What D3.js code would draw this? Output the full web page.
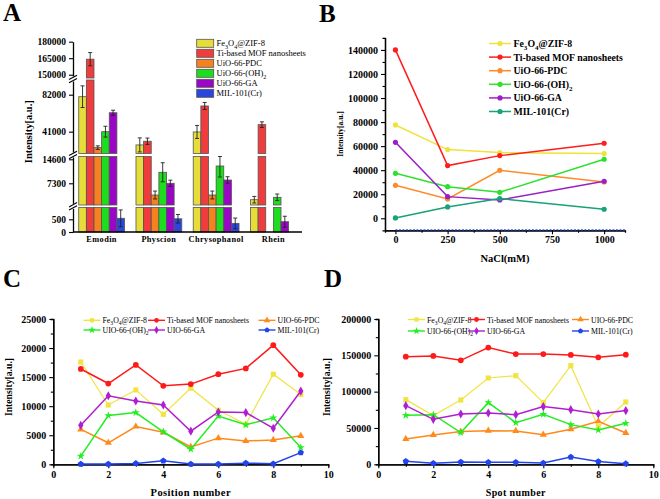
<!DOCTYPE html>
<html><head><meta charset="utf-8">
<script src="https://cdn.jsdelivr.net/npm/d3@7"></script>
<style>body{margin:0;background:#fff} text{font-family:"Liberation Serif","Times New Roman",serif}</style>
</head><body><svg id="c" width="660" height="499"></svg>
<script>
// ---------- data ----------
const namesAB = ["Fe_3O_4@ZIF-8","Ti-based MOF nanosheets","UiO-66-PDC","UiO-66-(OH)_2","UiO-66-GA","MIL-101(Cr)"];
const namesCD = ["Fe_3O_4@ZIF-8","Ti-based MOF nanosheets","UIO-66-PDC","UIO-66-(OH)_2","UIO-66-GA","MIL-101(Cr)"];

// Panel A
const categoriesA = ["Emodin","Physcion","Chrysophanol","Rhein"];
const A_fe  = [79800, 26300, 40700, 2310];
const A_ti  = [164100, 30400, 69500, 48800];
const A_pdc = [23300, 3740, 3740, 0];
const A_oh  = [41000, 10650, 12560, 3040];
const A_ga  = [62000, 7300, 8300, 405];
const A_mil = [540, 520, 340, 0];
const A_fe_err  = [12000, 7800, 7200, 1000];
const A_ti_err  = [6000, 3500, 3900, 3100];
const A_pdc_err = [2000, 1200, 1200, 0];
const A_oh_err  = [6000, 2900, 3350, 1000];
const A_ga_err  = [2800, 950, 1000, 215];
const A_mil_err = [330, 170, 210, 0];
const A_ticks = [[0,500],[7300,14600],[41000,82000],[150000,165000,180000]];

// Panel B
const nacl = [0,250,500,1000];
const B_fe  = [77600, 57100, 54600, 53800];
const B_ti  = [140000, 43800, 52100, 62400];
const B_pdc = [27400, 16100, 39900, 30200];
const B_oh  = [37400, 26300, 21600, 49100];
const B_ga  = [63200, 18000, 15200, 30800];
const B_mil = [300, 9400, 16400, 7500];

// Panel C
const positions = [1,2,3,4,5,6,7,8,9];
const C_fe  = [17600,10200,12800,8600,13100,9300,6900,15500,12000];
const C_ti  = [16400,13900,17100,13500,13800,15500,16500,20500,15400];
const C_pdc = [6000,3700,6500,5500,3000,4500,4000,4200,4900];
const C_oh  = [1400,8400,8900,5600,2600,8300,6800,8000,2900];
const C_ga  = [6700,11800,10900,10200,5700,9000,8900,6200,12600];
const C_mil = [50,50,150,600,50,50,200,100,2000];

// Panel D
const spots = [1,2,3,4,5,6,7,8,9];
const D_fe  = [89000,67000,88500,118800,122000,84900,135800,51800,85800];
const D_ti  = [148200,149100,143100,160600,151800,151800,150500,147200,150900];
const D_pdc = [34900,40400,45000,46300,45900,40800,48200,59200,43100];
const D_oh  = [67400,68300,43600,84900,57300,68800,54600,47200,56400];
const D_ga  = [80700,61900,69300,70600,68300,79400,75200,69300,73900];
const D_mil = [4100,1400,3200,2800,2800,1800,10100,3700,900];

// ---------- styles ----------
const colA = ["#e6dc3a","#f03c3c","#f5821f","#1edc1e","#9a06c6","#2a46dc"];
const colB = ["#f0e23c","#ff1c1c","#ff8a2a","#2ee02e","#9b1fc8","#17a279"];
const colCD = ["#f0e440","#ff1a1a","#ff8a1a","#22ee22","#b01ed2","#2244ee"];
const FONT = '"Liberation Serif","Times New Roman",serif';
const fmt = d3.format("d");

const svg = d3.select("#c");

function rich(sel, s, fs) {
  const parts = s.split(/(_.)/).filter(p => p);
  let sub = false;
  parts.forEach(p => {
    if (p[0] === "_") {
      sel.append("tspan").attr("dy", fs*0.28).attr("font-size", fs*0.72).text(p[1]);
      sub = true;
    } else {
      const t = sel.append("tspan").text(p);
      if (sub) { t.attr("dy", -fs*0.28); sub = false; }
    }
  });
}
function styleAxis(g, fs) {
  g.selectAll("path.domain").attr("stroke","#000").attr("stroke-width",1.3);
  g.selectAll(".tick line").attr("stroke","#000").attr("stroke-width",1.1);
  g.selectAll(".tick text").attr("font-family",FONT).attr("font-weight","bold").attr("font-size",fs).attr("fill","#000");
}
function title(x, y, t) {
  svg.append("text").attr("x",x).attr("y",y).attr("font-size",25).attr("font-weight","bold").attr("font-family",FONT).text(t);
}

// ================= Panel A =================
(function(){
  const g = svg.append("g");
  const segs = [
    {d:[0,965], r:[232,207.5]},
    {d:[700,15450], r:[205,156.5]},
    {d:[16800,98300], r:[153.5,80]},
    {d:[147000,180000], r:[78,41.7]}
  ];
  segs.forEach(s => s.sc = d3.scaleLinear().domain(s.d).range(s.r));
  const x0 = d3.scaleBand().domain(categoriesA).range([73,302]).paddingInner(0.2).paddingOuter(0.1);
  const x1 = d3.scaleBand().domain(d3.range(6)).range([0,x0.bandwidth()]);
  const vals = [A_fe,A_ti,A_pdc,A_oh,A_ga,A_mil];
  const errs = [A_fe_err,A_ti_err,A_pdc_err,A_oh_err,A_ga_err,A_mil_err];

  categoriesA.forEach((c,ci) => {
    vals.forEach((arr,si) => {
      const v = arr[ci];
      if (v <= 0) return;
      const bx = x0(c) + x1(si);
      segs.forEach((s,k) => {
        const lo = k === 0 ? 0 : s.d[0];
        if (v <= lo) return;
        const top = Math.min(v, s.d[1]);
        const y1 = s.sc(top), y2 = s.sc(lo);
        g.append("rect").attr("x",bx).attr("y",y1).attr("width",x1.bandwidth()).attr("height",y2-y1)
          .attr("fill",colA[si]).attr("stroke","#555").attr("stroke-width",0.8);
      });
      const e = errs[si][ci];
      if (e > 0) {
        const s = segs.find((s,k) => v >= (k===0?0:s.d[0]) && v <= s.d[1]);
        const cx = bx + x1.bandwidth()/2;
        const ya = s.sc(Math.min(v+e, s.d[1])), yb = s.sc(Math.max(v-e, s.d[0]));
        g.append("line").attr("x1",cx).attr("x2",cx).attr("y1",ya).attr("y2",yb).attr("stroke","#222").attr("stroke-width",0.9);
        [ya,yb].forEach(yy => g.append("line").attr("x1",cx-2).attr("x2",cx+2).attr("y1",yy).attr("y2",yy).attr("stroke","#222").attr("stroke-width",0.9));
      }
    });
  });
  segs.forEach((s,k) => {
    const ax = g.append("g").attr("transform","translate(73,0)")
      .call(d3.axisLeft(s.sc).tickValues(A_ticks[k]).tickSize(4).tickSizeOuter(0).tickPadding(3).tickFormat(fmt));
    styleAxis(ax, 9.5);
  });
  [79, 155, 206.3].forEach(gy => {
    g.append("rect").attr("x",68).attr("y",gy-2.5).attr("width",10).attr("height",5).attr("fill","#fff");
    [-1.6,1.6].forEach(o => g.append("line").attr("x1",69).attr("x2",77).attr("y1",gy+o+2.2).attr("y2",gy+o-2.2).attr("stroke","#000").attr("stroke-width",1.1));
  });
  const xa = g.append("g").attr("transform","translate(0,232)")
    .call(d3.axisBottom(x0).tickSize(0).tickPadding(4));
  styleAxis(xa, 8.3);
  xa.select("path.domain").attr("d","M73,0H302");
  xa.selectAll(".tick text").attr("letter-spacing",0.4);
  namesAB.forEach((n,i) => {
    const y = 43.3 + i*10;
    g.append("rect").attr("x",196.7).attr("y",y-4).attr("width",17).attr("height",8).attr("fill",colA[i]).attr("stroke","#555").attr("stroke-width",0.8);
    const t = g.append("text").attr("x",216.5).attr("y",y+3).attr("font-size",8.5).attr("font-family",FONT);
    rich(t, n, 8.5);
  });
  g.append("text").attr("transform","translate(32,131.7) rotate(-90)").attr("text-anchor","middle")
    .attr("font-size",10.5).attr("font-weight","bold").attr("font-family",FONT).text("Intensity[a.u.]");
  title(3, 21, "A");
})();

// ================= Panel B =================
(function(){
  const g = svg.append("g");
  const x = d3.scaleLinear().domain([-50,1100]).range([385,625]);
  const y = d3.scaleLinear().domain([-10000,150000]).range([230.3,37.9]);
  const series = [B_fe,B_ti,B_pdc,B_oh,B_ga,B_mil];
  const ym = g.append("g").attr("transform","translate(385,0)").call(d3.axisLeft(y).tickValues(d3.range(10000,150000,20000)).tickSize(2.5).tickFormat(""));
  styleAxis(ym, 10);
  const xm = g.append("g").attr("transform","translate(0,230.3)").call(d3.axisBottom(x).tickValues([125,375,625,875]).tickSize(2.5).tickFormat(""));
  styleAxis(xm, 10);
  const ya = g.append("g").attr("transform","translate(385,0)").call(d3.axisLeft(y).tickValues(d3.range(0,140001,20000)).tickSize(4).tickSizeOuter(0).tickPadding(3).tickFormat(fmt));
  styleAxis(ya, 10);
  const xa = g.append("g").attr("transform","translate(0,230.3)").call(d3.axisBottom(x).tickValues([0,250,500,750,1000]).tickSize(4).tickSizeOuter(0).tickPadding(2).tickFormat(fmt));
  styleAxis(xa, 10);
  g.append("line").attr("x1",x(0)).attr("x2",625).attr("y1",229.8).attr("y2",229.8).attr("stroke","#3355ee").attr("stroke-width",1.2).attr("stroke-dasharray","2,1.5");
  const line = d3.line().x((d,i)=>x(nacl[i])).y(d=>y(d));
  series.forEach((s,i) => {
    g.append("path").attr("d",line(s)).attr("fill","none").attr("stroke",colB[i]).attr("stroke-width",1.5);
    s.forEach((v,j) => g.append("circle").attr("cx",x(nacl[j])).attr("cy",y(v)).attr("r",2.6).attr("fill",colB[i]));
  });
  namesAB.forEach((n,i) => {
    const yy = 43.5 + i*13.6;
    g.append("line").attr("x1",489).attr("x2",511).attr("y1",yy).attr("y2",yy).attr("stroke",colB[i]).attr("stroke-width",1.5);
    g.append("circle").attr("cx",500).attr("cy",yy).attr("r",2.6).attr("fill",colB[i]);
    const t = g.append("text").attr("x",513.5).attr("y",yy+3.5).attr("font-size",9.8).attr("font-weight","bold").attr("font-family",FONT);
    rich(t, n, 9.8);
  });
  g.append("text").attr("transform","translate(343,134) rotate(-90)").attr("text-anchor","middle")
    .attr("font-size",7.6).attr("font-weight","bold").attr("font-family",FONT).text("Intensity[a.u.]");
  g.append("text").attr("x",505).attr("y",262).attr("text-anchor","middle")
    .attr("font-size",10.5).attr("font-weight","bold").attr("font-family",FONT).text("NaCl(mM)");
  title(319, 22, "B");
})();

// ---------- markers ----------
const pentagon = {draw(ctx, size){ const r = Math.sqrt(size/2.38); for(let k=0;k<5;k++){ const a = -Math.PI/2 + k*2*Math.PI/5; const px=r*Math.cos(a), py=r*Math.sin(a); if(k===0) ctx.moveTo(px,py); else ctx.lineTo(px,py);} ctx.closePath(); }};
const markerTypes = [d3.symbolSquare, d3.symbolCircle, d3.symbolTriangle, d3.symbolStar, d3.symbolDiamond, pentagon];
const markerSizes = [26, 26, 22, 20, 24, 26];

function linePanel(opt){
  const g = svg.append("g");
  const x = d3.scaleLinear().domain([0,10]).range([opt.x0, opt.x1]);
  const y = d3.scaleLinear().domain([0,opt.ymax]).range([464.3,319]);
  const ym = g.append("g").attr("transform",`translate(${opt.x0},0)`).call(d3.axisLeft(y).tickValues(d3.range(opt.ystep/2,opt.ymax,opt.ystep)).tickSize(2.5).tickFormat(""));
  styleAxis(ym,10);
  const xm = g.append("g").attr("transform","translate(0,464.3)").call(d3.axisBottom(x).tickValues([1,3,5,7,9]).tickSize(2.5).tickFormat(""));
  styleAxis(xm,10);
  const ya = g.append("g").attr("transform",`translate(${opt.x0},0)`).call(d3.axisLeft(y).tickValues(d3.range(0,opt.ymax+1,opt.ystep)).tickSize(4).tickSizeOuter(0).tickPadding(3).tickFormat(fmt));
  styleAxis(ya,10);
  const xa = g.append("g").attr("transform","translate(0,464.3)").call(d3.axisBottom(x).tickValues([0,2,4,6,8,10]).tickSize(4).tickSizeOuter(0).tickPadding(3).tickFormat(fmt));
  styleAxis(xa,10);
  const line = d3.line().x((d,i)=>x(opt.xs[i])).y(d=>y(d));
  opt.series.forEach((s,i) => {
    g.append("path").attr("d",line(s)).attr("fill","none").attr("stroke",colCD[i]).attr("stroke-width",i===0?1.2:1.5);
    s.forEach((v,j) => g.append("path").attr("transform",`translate(${x(opt.xs[j])},${y(v)})`)
      .attr("d",d3.symbol(markerTypes[i], markerSizes[i])()).attr("fill",colCD[i]));
  });
  namesCD.forEach((n,i) => {
    const col = i%3, row = Math.floor(i/3);
    const lx = opt.legX[col], yy = opt.legY[row];
    g.append("line").attr("x1",lx).attr("x2",lx+17).attr("y1",yy).attr("y2",yy).attr("stroke",colCD[i]).attr("stroke-width",1.4);
    g.append("path").attr("transform",`translate(${lx+8.5},${yy})`).attr("d",d3.symbol(markerTypes[i], 18)()).attr("fill",colCD[i]);
    const t = g.append("text").attr("x",lx+19).attr("y",yy+3).attr("font-size",7.8).attr("font-family",FONT);
    rich(t, n, 7.8);
  });
  g.append("text").attr("transform",`translate(${opt.ylabX},387) rotate(-90)`).attr("text-anchor","middle")
    .attr("font-size",9.7).attr("font-weight","bold").attr("font-family",FONT).text("Intensity[a.u.]");
  g.append("text").attr("x",(opt.x0+opt.x1)/2).attr("y",495.5).attr("text-anchor","middle")
    .attr("font-size",opt.xlabFs).attr("font-weight","bold").attr("font-family",FONT).attr("letter-spacing",0.4).text(opt.xlab);
  title(opt.tx, 287, opt.t);
}

linePanel({x0:53.3, x1:328.3, ymax:25000, ystep:5000, xs:positions,
  series:[C_fe,C_ti,C_pdc,C_oh,C_ga,C_mil], legX:[83.5,148,258.5], legY:[320.3,330],
  ylabX:12, xlab:"Position number", xlabFs:10.5, tx:3, t:"C"});
linePanel({x0:378.3, x1:653.3, ymax:200000, ystep:50000, xs:spots,
  series:[D_fe,D_ti,D_pdc,D_oh,D_ga,D_mil], legX:[408,468,572], legY:[319.5,331],
  ylabX:330, xlab:"Spot number", xlabFs:10, tx:324, t:"D"});
</script>
</body></html>
